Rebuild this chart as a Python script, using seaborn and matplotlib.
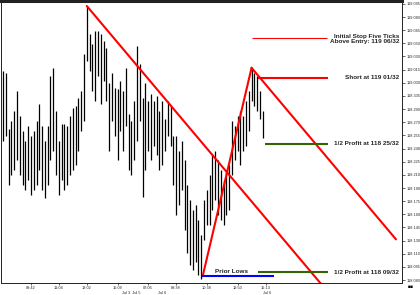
import pandas as pd
import matplotlib
matplotlib.use("Agg")
import matplotlib.pyplot as plt
import seaborn as sns

# bar highs / lows (price), one per bar
highs = [119.046, 119.038, 118.826, 118.856, 118.894, 118.970, 118.875, 118.818, 118.780, 118.837,
         118.799, 118.818, 118.856, 118.921, 118.837, 118.780, 118.837, 119.027, 119.057, 118.894,
         118.780, 118.845, 118.845, 118.837, 118.875, 118.905, 118.913, 118.943, 118.970, 119.110,
         119.292, 119.186, 119.148, 119.197, 119.197, 119.186, 119.159, 119.133, 119.000, 119.038,
         118.981, 118.977, 119.008, 118.970, 119.057, 118.883, 118.856, 118.932, 119.140, 119.072,
         118.943, 119.000, 118.932, 118.959, 118.932, 118.951, 118.894, 118.932, 118.864, 118.932,
         118.913, 118.799, 118.799, 118.742, 118.780, 118.705, 118.610, 118.553, 118.515, 118.534,
         118.477, 118.420, 118.553, 118.591, 118.648, 118.724, 118.742, 118.705, 118.667, 118.629,
         118.667, 118.686, 118.856, 118.837, 118.875, 118.894, 118.875, 118.932, 118.970, 119.057,
         119.038, 119.027, 118.970, 118.894]
lows = [118.780, 118.799, 118.610, 118.648, 118.667, 118.705, 118.648, 118.610, 118.591, 118.629,
        118.572, 118.591, 118.610, 118.667, 118.591, 118.561, 118.610, 118.705, 118.742, 118.648,
        118.572, 118.629, 118.591, 118.610, 118.648, 118.667, 118.686, 118.742, 118.818, 118.856,
        119.084, 119.046, 118.970, 118.932, 119.027, 118.921, 119.008, 118.932, 118.742, 118.856,
        118.799, 118.705, 118.818, 118.742, 118.837, 118.667, 118.648, 118.705, 118.780, 118.856,
        118.564, 118.667, 118.742, 118.705, 118.761, 118.724, 118.667, 118.686, 118.742, 118.799,
        118.761, 118.610, 118.496, 118.534, 118.591, 118.439, 118.352, 118.307, 118.288, 118.318,
        118.269, 118.254, 118.401, 118.458, 118.458, 118.515, 118.553, 118.496, 118.477, 118.458,
        118.496, 118.515, 118.648, 118.705, 118.742, 118.686, 118.742, 118.761, 118.818, 118.932,
        118.913, 118.894, 118.864, 118.792]
bars = list(range(len(highs)))

# trend lines (bar index, price)
trend_x = [[30, 114], [71.5, 89], [89, 140.7]]
trend_y = [[119.292, 118.234], [118.265, 119.057], [119.057, 118.405]]

# horizontal levels
level_price = [119.171, 119.020, 118.769, 118.280, 118.265]
level_from = [89.3, 91.4, 93.9, 91.4, 71.4]
level_to = [116.1, 116.4, 116.4, 116.4, 97.1]
level_color = ["#ff0000", "#ff0000", "#336600", "#336600", "#0000ff"]
level_width = [0.8, 1.5, 1.5, 1.5, 1.5]

notes = ["Initial Stop Five Ticks\nAbove Entry: 119 06/32", "Short at 119 01/32",
         "1/2 Profit at 118 25/32", "1/2 Profit at 118 09/32"]
note_price = [119.167, 119.020, 118.769, 118.280]

ytick_vals = [119.30, 119.25, 119.20, 119.15, 119.10, 119.05, 119.00, 118.95, 118.90, 118.85, 118.80,
              118.75, 118.70, 118.65, 118.60, 118.55, 118.50, 118.45, 118.40, 118.35, 118.30, 118.25]
ytick_labels = ["119.095", "119.080", "119.065", "119.050", "119.030", "119.015", "119.000",
                "118.305", "118.290", "118.270", "118.255", "118.240", "118.225", "118.210",
                "118.190", "118.175", "118.160", "118.145", "118.130", "118.110", "118.095", "118.080"]
xtick_vals = [10, 20, 30, 41, 52, 62, 73, 84, 94]
xtick_labels = ["09:42", "11:04", "13:02", "15:09", "07:06", "09:38", "10:38", "12:50", "15:13"]
date_pos = [46, 57, 94.5]
date_labels = ["Jul 3  Jul 5", "Jul 6", "Jul 6"]

sns.set_theme(style="white")
plt.rcParams['font.family'] = ['Liberation Sans', 'DejaVu Sans']

fig = plt.figure(figsize=(4.2, 2.95), dpi=100)
ax = fig.add_axes([0.0024, 0.0407, 0.955, 0.956])

ax.vlines(bars, lows, highs, color="black", lw=0.9)

rows = []
for k in range(len(trend_x)):
    for x, y in zip(trend_x[k], trend_y[k]):
        rows.append({"line": k, "x": x, "y": y})
df = pd.DataFrame(rows)
sns.lineplot(data=df, x="x", y="y", units="line", estimator=None, color="#ff0000",
             lw=1.5, ax=ax, legend=False)

for p, a, b, c, w in zip(level_price, level_from, level_to, level_color, level_width):
    ax.hlines(p, a, b, color=c, lw=w)

for t, p in zip(notes, note_price):
    ax.text(141.8, p, t, ha="right", va="center", fontsize=4.6, fontweight="bold",
            linespacing=1.05)
ax.text(81.8, 118.283, "Prior Lows", ha="center", va="center", fontsize=4.6, fontweight="bold")

ax.set_xlim(-0.71, 142.9)
ax.set_ylim(118.239, 119.311)
ax.set_xlabel("")
ax.set_ylabel("")
ax.yaxis.tick_right()
ax.set_yticks(ytick_vals)
ax.set_yticklabels(ytick_labels)
ax.set_xticks(xtick_vals)
ax.set_xticklabels(xtick_labels)
ax.tick_params(axis="y", direction="out", length=2.5, width=0.5, labelsize=2.8, pad=0.8,
               right=True, left=False)
ax.tick_params(axis="x", direction="out", length=1.5, width=0.5, labelsize=2.8, pad=0.6,
               bottom=True)
for x, t in zip(date_pos, date_labels):
    ax.text(x, -0.03, t, transform=ax.get_xaxis_transform(), ha="center", va="top", fontsize=2.8)

for s in ax.spines.values():
    s.set_color("#222222")
    s.set_linewidth(0.7)
ax.spines["top"].set_linewidth(2.2)

fig.text(0.985, 0.028, "■■", fontsize=3.5, ha="right", va="center", color="black")

fig.savefig("out.png", dpi=100)
